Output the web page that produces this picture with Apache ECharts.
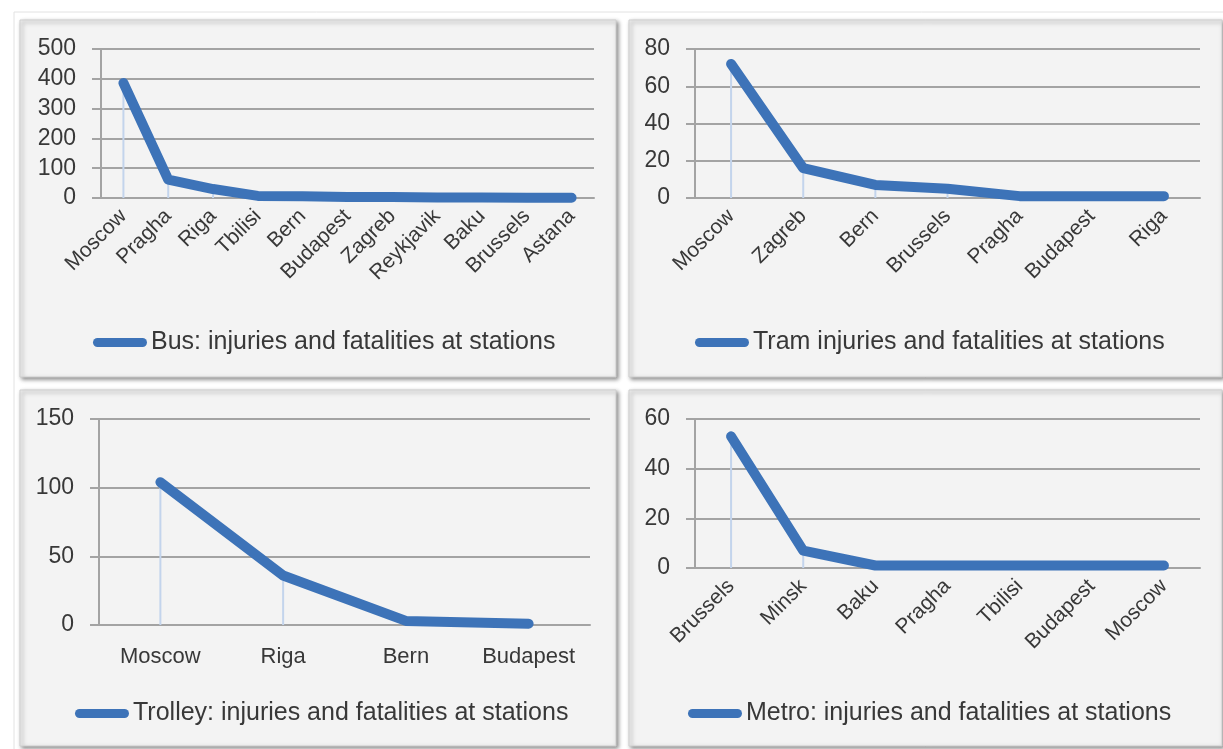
<!DOCTYPE html>
<html>
<head>
<meta charset="utf-8">
<script src="https://cdn.jsdelivr.net/npm/echarts@6/dist/echarts.min.js"></script>
<style>
html,body{margin:0;padding:0;background:#fff;}
#chart{width:1223px;height:749px;}
</style>
</head>
<body>
<div id="chart"></div>
<script>
// ---- Data ----
const busCities = ['Moscow','Pragha','Riga','Tbilisi','Bern','Budapest','Zagreb','Reykjavik','Baku','Brussels','Astana'];
const busValues = [386, 62, 30, 7, 6, 3, 3, 2, 2, 1, 1];
const busName = 'Bus: injuries and fatalities at stations';

const tramCities = ['Moscow','Zagreb','Bern','Brussels','Pragha','Budapest','Riga'];
const tramValues = [72, 16, 7, 5, 1, 1, 1];
const tramName = 'Tram injuries and fatalities at stations';

const trolleyCities = ['Moscow','Riga','Bern','Budapest'];
const trolleyValues = [104, 36, 3, 1];
const trolleyName = 'Trolley: injuries and fatalities at stations';

const metroCities = ['Brussels','Minsk','Baku','Pragha','Tbilisi','Budapest','Moscow'];
const metroValues = [53, 7, 1, 1, 1, 1, 1];
const metroName = 'Metro: injuries and fatalities at stations';

const yMax = [500, 80, 150, 60];
const yStep = [100, 20, 50, 20];

// ---- Styles ----
const FONT = 'Liberation Sans';
const TXT = '#383838';
const GRIDC = '#a3a3a3';
const LINEC = '#3d73b8';
const DROPC = '#c3d4ec';

const panels = [
  {x: 20, y: 20, w: 596, h: 357},
  {x: 629, y: 20, w: 593, h: 357},
  {x: 20, y: 390, w: 596, h: 356},
  {x: 629, y: 390, w: 593, h: 356}
];

const grids = [
  {left: 101, top: 49, width: 493, height: 149},
  {left: 695, top: 49, width: 505, height: 149},
  {left: 99, top: 419, width: 491, height: 206},
  {left: 695, top: 419, width: 505, height: 149}
];

const cats = [busCities, tramCities, trolleyCities, metroCities];
const vals = [busValues, tramValues, trolleyValues, metroValues];
const names = [busName, tramName, trolleyName, metroName];
const legendPos = [
  {left: 93, top: 330},
  {left: 695, top: 330},
  {left: 75, top: 701},
  {left: 688, top: 701}
];

const xAxes = cats.map((c, i) => ({
  type: 'category',
  gridIndex: i,
  data: c,
  axisLine: {show: true, lineStyle: {color: GRIDC, width: 2}},
  axisTick: {show: false},
  axisLabel: i === 2 ? {
    interval: 0, color: TXT, fontFamily: FONT, fontSize: 22, margin: 21
  } : {
    interval: 0, rotate: 45, color: TXT, fontFamily: FONT, fontSize: 21, margin: 15
  }
}));

const yAxes = yMax.map((m, i) => ({
  type: 'value',
  gridIndex: i,
  min: 0, max: m, interval: yStep[i],
  axisLine: {show: true, lineStyle: {color: GRIDC, width: 2}},
  axisTick: {show: true, length: 9, lineStyle: {color: GRIDC, width: 2}},
  splitLine: {show: true, lineStyle: {color: GRIDC, width: 2}},
  axisLabel: {color: TXT, fontFamily: FONT, fontSize: 23, margin: 25}
}));

const series = [];
vals.forEach((v, i) => {
  series.push({
    name: names[i] + ' drop',
    type: 'bar',
    xAxisIndex: i, yAxisIndex: i,
    data: v,
    barWidth: 2,
    itemStyle: {color: DROPC},
    z: 1,
    silent: true
  });
  series.push({
    name: names[i],
    type: 'line',
    xAxisIndex: i, yAxisIndex: i,
    data: v,
    showSymbol: false,
    symbol: 'circle',
    color: LINEC,
    lineStyle: {color: LINEC, width: 10, cap: 'round', join: 'round'},
    z: 3,
    animation: false
  });
});

const legends = names.map((n, i) => ({
  data: [{name: n, icon: 'path://M5,0 L55,0 A5,5 0 0 1 55,10 L5,10 A5,5 0 0 1 5,0 Z'}],
  left: legendPos[i].left,
  top: legendPos[i].top,
  padding: 0,
  itemWidth: 58,
  itemHeight: 9,
  itemGap: 0,
  textStyle: {color: TXT, fontFamily: FONT, fontSize: 25, padding: [0, 0, 0, -3]},
  itemStyle: {color: LINEC},
  selectedMode: false
}));

const graphicEls = [
  {type: 'rect', shape: {x: 14, y: 12, width: 1215, height: 745},
   style: {fill: '#ffffff', stroke: '#e2e2e2', lineWidth: 1}, z: -20}
].concat(panels.map(p => ({
  type: 'rect',
  shape: {x: p.x, y: p.y, width: p.w, height: p.h},
  style: {fill: '#f3f3f3', stroke: '#cfcfcf', lineWidth: 1,
          shadowBlur: 4, shadowOffsetX: 2, shadowOffsetY: 2, shadowColor: 'rgba(0,0,0,0.45)'},
  z: -10
})));

const chart = echarts.init(document.getElementById('chart'), null, {renderer: 'canvas'});
chart.setOption({
  animation: false,
  backgroundColor: '#ffffff',
  graphic: {elements: graphicEls},
  grid: grids,
  xAxis: xAxes,
  yAxis: yAxes,
  legend: legends,
  series: series
});
</script>
</body>
</html>
